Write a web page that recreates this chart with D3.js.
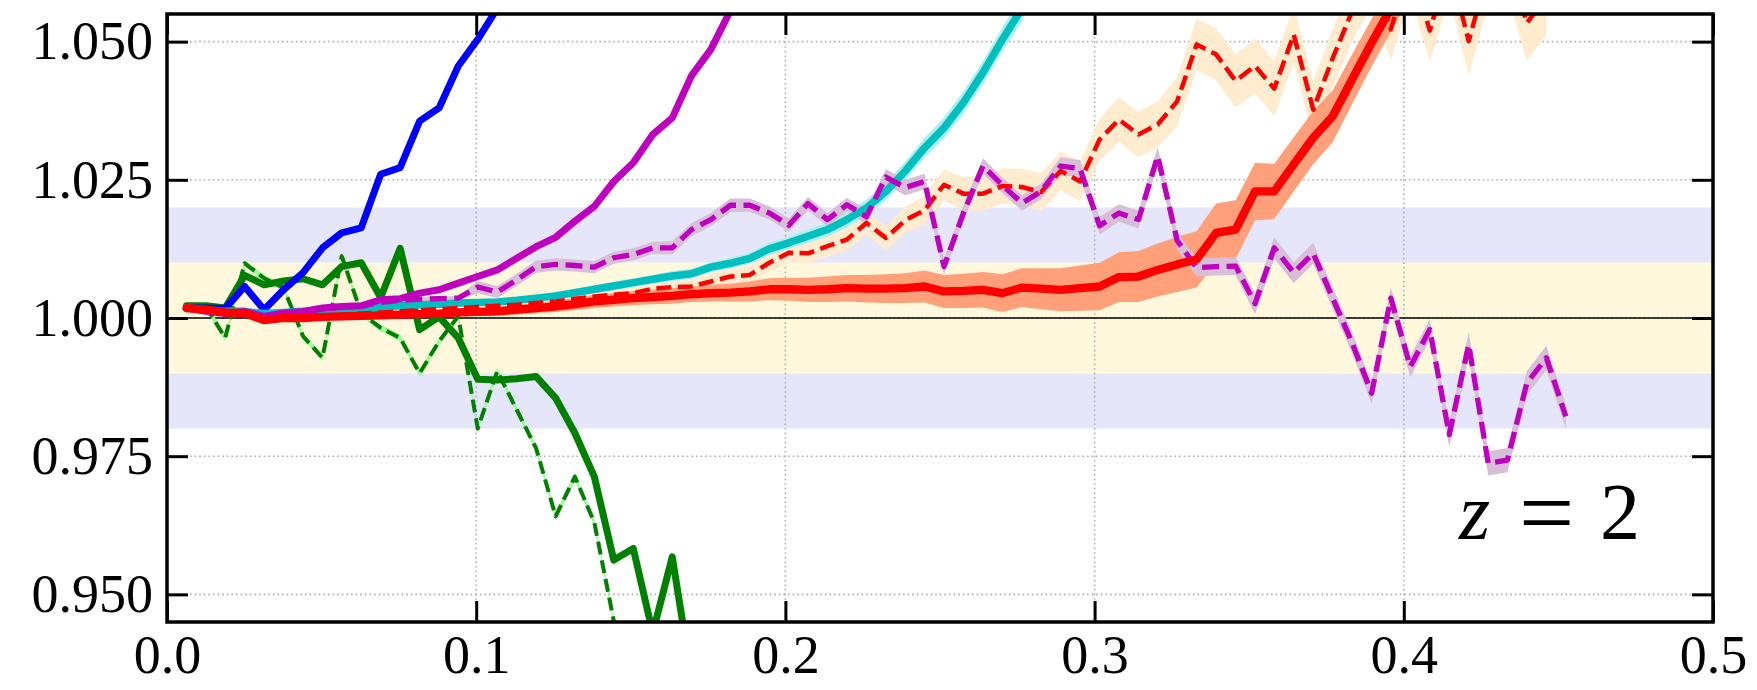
<!DOCTYPE html>
<html>
<head>
<meta charset="utf-8">
<script src="https://cdn.jsdelivr.net/npm/d3@7"></script>
<style>
  body { margin: 0; background: #fff; }
  text { font-family: "Liberation Serif", "DejaVu Serif", serif; }
</style>
</head>
<body>
<div id="chart"></div>
<script>
// k grid (shared by every series)
var kGrid = [0.0063, 0.0126, 0.0188, 0.0251, 0.0314, 0.0377, 0.0440, 0.0503, 0.0565, 0.0628,
  0.0691, 0.0754, 0.0817, 0.0880, 0.0942, 0.1005, 0.1068, 0.1131, 0.1194, 0.1257,
  0.1319, 0.1382, 0.1445, 0.1508, 0.1571, 0.1634, 0.1696, 0.1759, 0.1822, 0.1885,
  0.1948, 0.2011, 0.2073, 0.2136, 0.2199, 0.2262, 0.2325, 0.2388, 0.2450, 0.2513,
  0.2576, 0.2639, 0.2702, 0.2765, 0.2827, 0.2890, 0.2953, 0.3016, 0.3079, 0.3142,
  0.3204, 0.3267, 0.3330, 0.3393, 0.3456, 0.3519, 0.3581, 0.3644, 0.3707, 0.3770,
  0.3833, 0.3896, 0.3958, 0.4021, 0.4084, 0.4147, 0.4210, 0.4273, 0.4335, 0.4398,
  0.4461, 0.4524];

var blueSolid = [1.0018, 1.0018, 1.0017, 1.0057, 1.0015, 1.0051, 1.0082, 1.0127, 1.0154, 1.0163,
  1.0260, 1.0272, 1.0356, 1.0380, 1.0456, 1.0504, 1.0560, 1.0620];

var magentaSolid = [1.0018, 1.0012, 1.0008, 1.0012, 1.0003, 1.0009, 1.0012, 1.0018, 1.0021, 1.0022,
  1.0033, 1.0035, 1.0045, 1.0051, 1.0063, 1.0075, 1.0087, 1.0108, 1.0129, 1.0146,
  1.0175, 1.0202, 1.0247, 1.0281, 1.0332, 1.0362, 1.0438, 1.0486, 1.0556, 1.0630];

var cyanSolid = [1.0018, 1.0015, 1.0012, 1.0012, 1.0008, 1.0010, 1.0012, 1.0012, 1.0013, 1.0017,
  1.0020, 1.0022, 1.0024, 1.0025, 1.0027, 1.0028, 1.0029, 1.0032, 1.0036, 1.0040,
  1.0046, 1.0052, 1.0058, 1.0064, 1.0070, 1.0076, 1.0080, 1.0092, 1.0099, 1.0108,
  1.0125, 1.0136, 1.0148, 1.0160, 1.0178, 1.0199, 1.0229, 1.0266, 1.0308, 1.0344,
  1.0390, 1.0444, 1.0504, 1.0560, 1.0630];
var cyanErr = [0.0003, 0.0003, 0.0003, 0.0003, 0.0003, 0.0003, 0.0003, 0.0004, 0.0004, 0.0004,
  0.0004, 0.0004, 0.0004, 0.0005, 0.0005, 0.0005, 0.0005, 0.0006, 0.0006, 0.0006,
  0.0007, 0.0007, 0.0008, 0.0008, 0.0008, 0.0009, 0.0009, 0.0009, 0.0010, 0.0010,
  0.0011, 0.0011, 0.0012, 0.0013, 0.0014, 0.0015, 0.0016, 0.0017, 0.0018, 0.0019,
  0.0020, 0.0021, 0.0022, 0.0023, 0.0024];

var redSolid = [1.0018, 1.0015, 1.0010, 1.0009, 0.9996, 1.0000, 1.0000, 1.0002, 1.0003, 1.0004,
  1.0005, 1.0006, 1.0007, 1.0008, 1.0010, 1.0011, 1.0012, 1.0015, 1.0018, 1.0021,
  1.0025, 1.0030, 1.0033, 1.0036, 1.0038, 1.0040, 1.0043, 1.0045, 1.0046, 1.0048,
  1.0052, 1.0052, 1.0051, 1.0052, 1.0054, 1.0053, 1.0053, 1.0054, 1.0057, 1.0048,
  1.0049, 1.0051, 1.0045, 1.0055, 1.0053, 1.0051, 1.0054, 1.0057, 1.0074, 1.0075,
  1.0087, 1.0097, 1.0106, 1.0154, 1.0160, 1.0229, 1.0229, 1.0278, 1.0326, 1.0365,
  1.0432, 1.0498, 1.0560, 1.0620];
var redErr = [0.0002, 0.0002, 0.0002, 0.0003, 0.0003, 0.0003, 0.0003, 0.0004, 0.0004, 0.0004,
  0.0005, 0.0005, 0.0006, 0.0006, 0.0007, 0.0007, 0.0008, 0.0009, 0.0009, 0.0010,
  0.0011, 0.0012, 0.0012, 0.0013, 0.0013, 0.0014, 0.0014, 0.0015, 0.0016, 0.0018,
  0.0020, 0.0021, 0.0022, 0.0023, 0.0024, 0.0025, 0.0026, 0.0027, 0.0029, 0.0030,
  0.0031, 0.0032, 0.0034, 0.0035, 0.0037, 0.0039, 0.0041, 0.0043, 0.0045, 0.0046,
  0.0048, 0.0050, 0.0051, 0.0053, 0.0053, 0.0052, 0.0050, 0.0049, 0.0048, 0.0047,
  0.0045, 0.0043, 0.0042, 0.0040];

var redDashed = [1.0018, 1.0015, 1.0010, 1.0010, 0.9997, 1.0001, 1.0002, 1.0004, 1.0006, 1.0008,
  1.0010, 1.0012, 1.0014, 1.0016, 1.0018, 1.0020, 1.0022, 1.0024, 1.0027, 1.0030,
  1.0035, 1.0039, 1.0042, 1.0045, 1.0053, 1.0056, 1.0057, 1.0066, 1.0075, 1.0078,
  1.0100, 1.0118, 1.0117, 1.0130, 1.0142, 1.0172, 1.0145, 1.0177, 1.0195, 1.0241,
  1.0225, 1.0225, 1.0239, 1.0237, 1.0228, 1.0266, 1.0247, 1.0323, 1.0359, 1.0332,
  1.0350, 1.0392, 1.0495, 1.0477, 1.0429, 1.0456, 1.0415, 1.0513, 1.0377, 1.0470,
  1.0555, 1.0620, 1.0522, 1.0640, 1.0520, 1.0640, 1.0501, 1.0630, 1.0650, 1.0534,
  1.0580];
var redDashedErr = [0.0003, 0.0003, 0.0003, 0.0003, 0.0003, 0.0003, 0.0003, 0.0003, 0.0004, 0.0004,
  0.0004, 0.0004, 0.0005, 0.0005, 0.0005, 0.0006, 0.0006, 0.0007, 0.0007, 0.0008,
  0.0008, 0.0009, 0.0009, 0.0010, 0.0010, 0.0011, 0.0012, 0.0013, 0.0014, 0.0015,
  0.0016, 0.0017, 0.0018, 0.0019, 0.0020, 0.0021, 0.0022, 0.0024, 0.0026, 0.0028,
  0.0030, 0.0031, 0.0032, 0.0033, 0.0034, 0.0035, 0.0036, 0.0038, 0.0040, 0.0041,
  0.0042, 0.0044, 0.0046, 0.0047, 0.0048, 0.0049, 0.0050, 0.0051, 0.0052, 0.0053,
  0.0054, 0.0055, 0.0055, 0.0056, 0.0057, 0.0058, 0.0062, 0.0064, 0.0066, 0.0068,
  0.0068];

var magentaDashed = [1.0018, 1.0012, 1.0008, 1.0010, 1.0004, 1.0008, 1.0012, 1.0016, 1.0020, 1.0022,
  1.0028, 1.0032, 1.0034, 1.0035, 1.0036, 1.0056, 1.0047, 1.0069, 1.0093, 1.0097,
  1.0095, 1.0092, 1.0109, 1.0115, 1.0127, 1.0127, 1.0160, 1.0178, 1.0204, 1.0204,
  1.0190, 1.0168, 1.0207, 1.0178, 1.0205, 1.0183, 1.0255, 1.0236, 1.0247, 1.0093,
  1.0190, 1.0275, 1.0240, 1.0208, 1.0229, 1.0275, 1.0270, 1.0167, 1.0190, 1.0178,
  1.0293, 1.0140, 1.0091, 1.0093, 1.0094, 1.0026, 1.0127, 1.0082, 1.0117, 1.0036,
  0.9955, 0.9864, 1.0036, 0.9912, 0.9979, 0.9789, 0.9952, 0.9737, 0.9743, 0.9882,
  0.9928, 0.9822];
var magentaDashedErr = [0.0004, 0.0004, 0.0004, 0.0004, 0.0004, 0.0004, 0.0004, 0.0004, 0.0004, 0.0004,
  0.0004, 0.0004, 0.0004, 0.0004, 0.0004, 0.0011, 0.0011, 0.0011, 0.0011, 0.0011,
  0.0011, 0.0011, 0.0011, 0.0011, 0.0011, 0.0012, 0.0012, 0.0012, 0.0012, 0.0012,
  0.0012, 0.0012, 0.0012, 0.0012, 0.0012, 0.0014, 0.0014, 0.0014, 0.0014, 0.0014,
  0.0014, 0.0014, 0.0014, 0.0014, 0.0014, 0.0016, 0.0016, 0.0016, 0.0016, 0.0016,
  0.0016, 0.0016, 0.0016, 0.0016, 0.0016, 0.0019, 0.0019, 0.0019, 0.0019, 0.0019,
  0.0019, 0.0019, 0.0019, 0.0019, 0.0019, 0.0022, 0.0022, 0.0022, 0.0022, 0.0022,
  0.0022, 0.0022];

var greenSolid = [1.0022, 1.0022, 1.0018, 1.0077, 1.0060, 1.0067, 1.0071, 1.0060, 1.0093, 1.0100,
  1.0037, 1.0126, 0.9979, 1.0002, 0.9964, 0.9889, 0.9888, 0.9890, 0.9894, 0.9855,
  0.9792, 0.9713, 0.9562, 0.9583, 0.9430, 0.9568, 0.9350];

var greenDashed = [1.0021, 1.0021, 0.9964, 1.0099, 1.0072, 1.0055, 0.9967, 0.9928, 1.0112, 1.0009,
  0.9982, 0.9964, 0.9900, 0.9958, 1.0003, 0.9800, 0.9904, 0.9834, 0.9764, 0.9641,
  0.9713, 0.9630, 0.9452, 0.9380];
var greenDashedErr = [0.0006, 0.0006, 0.0006, 0.0006, 0.0006, 0.0006, 0.0006, 0.0006, 0.0006, 0.0006,
  0.0006, 0.0006, 0.0006, 0.0006, 0.0006, 0.0006, 0.0006, 0.0006, 0.0006, 0.0006,
  0.0006, 0.0006, 0.0006, 0.0006];

// axis ticks
var xTicks = [0.0, 0.1, 0.2, 0.3, 0.4, 0.5];
var yTicks = [0.950, 0.975, 1.000, 1.025, 1.050];

// shaded tolerance bands
var innerBand = [0.99, 1.01];
var outerBands = [[1.01, 1.02], [0.98, 0.99]];

var svgWidth = 1757;
var svgHeight = 690;

var margin = {
  top: 14,
  right: 44,
  bottom: 68,
  left: 167
};

var width = svgWidth - margin.left - margin.right;
var height = svgHeight - margin.top - margin.bottom;

var svg = d3.select("#chart")
  .append("svg")
  .attr("width", svgWidth)
  .attr("height", svgHeight);

var chartGroup = svg.append("g")
  .attr("transform", `translate(${margin.left}, ${margin.top})`);

var xScale = d3.scaleLinear().domain([0, 0.5]).range([0, width]);
var yScale = d3.scaleLinear().domain([0.945, 1.055]).range([height, 0]);

chartGroup.append("clipPath")
  .attr("id", "plotClip")
  .append("rect")
  .attr("width", width)
  .attr("height", height);

// background bands
outerBands.forEach(function(b) {
  chartGroup.append("rect")
    .attr("x", 0)
    .attr("width", width)
    .attr("y", yScale(b[1]))
    .attr("height", yScale(b[0]) - yScale(b[1]))
    .attr("fill", "#e6e6fa");
});
chartGroup.append("rect")
  .attr("x", 0)
  .attr("width", width)
  .attr("y", yScale(innerBand[1]))
  .attr("height", yScale(innerBand[0]) - yScale(innerBand[1]))
  .attr("fill", "#fff8dc");

// grid
chartGroup.selectAll(".vgrid")
  .data(xTicks.slice(1, -1))
  .enter()
  .append("line")
  .attr("x1", d => xScale(d))
  .attr("x2", d => xScale(d))
  .attr("y1", 0)
  .attr("y2", height)
  .attr("stroke", "#b0b0b0")
  .attr("stroke-width", 1.6)
  .attr("stroke-dasharray", "1.6,3");

chartGroup.selectAll(".hgrid")
  .data(yTicks)
  .enter()
  .append("line")
  .attr("x1", 0)
  .attr("x2", width)
  .attr("y1", d => yScale(d))
  .attr("y2", d => yScale(d))
  .attr("stroke", "#b0b0b0")
  .attr("stroke-width", 1.6)
  .attr("stroke-dasharray", "1.6,3");

// reference line at unity
chartGroup.append("line")
  .attr("x1", 0)
  .attr("x2", width)
  .attr("y1", yScale(1))
  .attr("y2", yScale(1))
  .attr("stroke", "#000")
  .attr("stroke-width", 1.6);

var dataGroup = chartGroup.append("g").attr("clip-path", "url(#plotClip)");

function toPoints(vals, errs) {
  return vals.map(function(v, i) {
    return {x: kGrid[i], y: v, e: errs ? errs[i] : 0};
  });
}

var area = d3.area()
  .x(d => xScale(d.x))
  .y0(d => yScale(d.y - d.e))
  .y1(d => yScale(d.y + d.e));

var line = d3.line()
  .x(d => xScale(d.x))
  .y(d => yScale(d.y));

function drawBand(vals, errs, color) {
  dataGroup.append("path")
    .datum(toPoints(vals, errs))
    .attr("d", area)
    .attr("fill", color)
    .attr("stroke", "none");
}

function drawLine(vals, color, lw, dash) {
  dataGroup.append("path")
    .datum(toPoints(vals))
    .attr("d", line)
    .attr("fill", "none")
    .attr("stroke", color)
    .attr("stroke-width", lw)
    .attr("stroke-linejoin", "round")
    .attr("stroke-linecap", dash ? "butt" : "round")
    .attr("stroke-dasharray", dash || null);
}

// error bands
drawBand(redDashed, redDashedErr, "#ffebcd");
drawBand(redSolid, redErr, "#ffa07a");
drawBand(cyanSolid, cyanErr, "#afeeee");
drawBand(greenDashed, greenDashedErr, "#98fb98");
drawBand(magentaDashed, magentaDashedErr, "#d8bfd8");

// lines
drawLine(greenSolid, "#008000", 7);
drawLine(greenDashed, "#008000", 4, "13,6");
drawLine(blueSolid, "#0000ff", 7);
drawLine(cyanSolid, "#00bfbf", 7.5);
drawLine(magentaSolid, "#bf00bf", 7);
drawLine(redDashed, "#ff0000", 4.5, "15,6.5");
drawLine(magentaDashed, "#bf00bf", 5.3, "17,7.5");
drawLine(redSolid, "#ff0000", 8.3);

// axes with inward ticks
var tickLen = -21;
var bottomAxis = d3.axisBottom(xScale).tickValues(xTicks).tickSize(tickLen).tickPadding(13)
  .tickFormat(d3.format(".1f"));
var topAxis = d3.axisTop(xScale).tickValues(xTicks).tickSize(tickLen).tickFormat("");
var leftAxis = d3.axisLeft(yScale).tickValues(yTicks).tickSize(tickLen).tickPadding(14)
  .tickFormat(d3.format(".3f"));
var rightAxis = d3.axisRight(yScale).tickValues(yTicks).tickSize(tickLen).tickFormat("");

function styleAxis(g) {
  g.select(".domain").remove();
  g.selectAll(".tick line").attr("stroke", "#000").attr("stroke-width", 3);
  g.selectAll(".tick text")
    .attr("fill", "#000")
    .style("font-size", "54px")
    .style("font-family", "'Liberation Serif', 'DejaVu Serif', serif");
}

chartGroup.append("g")
  .attr("transform", `translate(0, ${height})`)
  .call(bottomAxis)
  .call(styleAxis);
chartGroup.append("g")
  .call(topAxis)
  .call(styleAxis);
chartGroup.append("g")
  .call(leftAxis)
  .call(styleAxis);
chartGroup.append("g")
  .attr("transform", `translate(${width}, 0)`)
  .call(rightAxis)
  .call(styleAxis);

// frame
chartGroup.append("rect")
  .attr("width", width)
  .attr("height", height)
  .attr("fill", "none")
  .attr("stroke", "#000")
  .attr("stroke-width", 3.5);

// redshift label
chartGroup.append("text")
  .attr("x", 1459 - margin.left)
  .attr("y", 539 - margin.top)
  .attr("fill", "#000")
  .style("font-size", "80px")
  .style("font-style", "italic")
  .text("z");
chartGroup.append("text")
  .attr("x", 1519 - margin.left)
  .attr("y", 545 - margin.top)
  .attr("fill", "#000")
  .style("font-size", "98px")
  .text("=");
chartGroup.append("text")
  .attr("x", 1600 - margin.left)
  .attr("y", 539 - margin.top)
  .attr("fill", "#000")
  .style("font-size", "80px")
  .text("2");
</script>
</body>
</html>
